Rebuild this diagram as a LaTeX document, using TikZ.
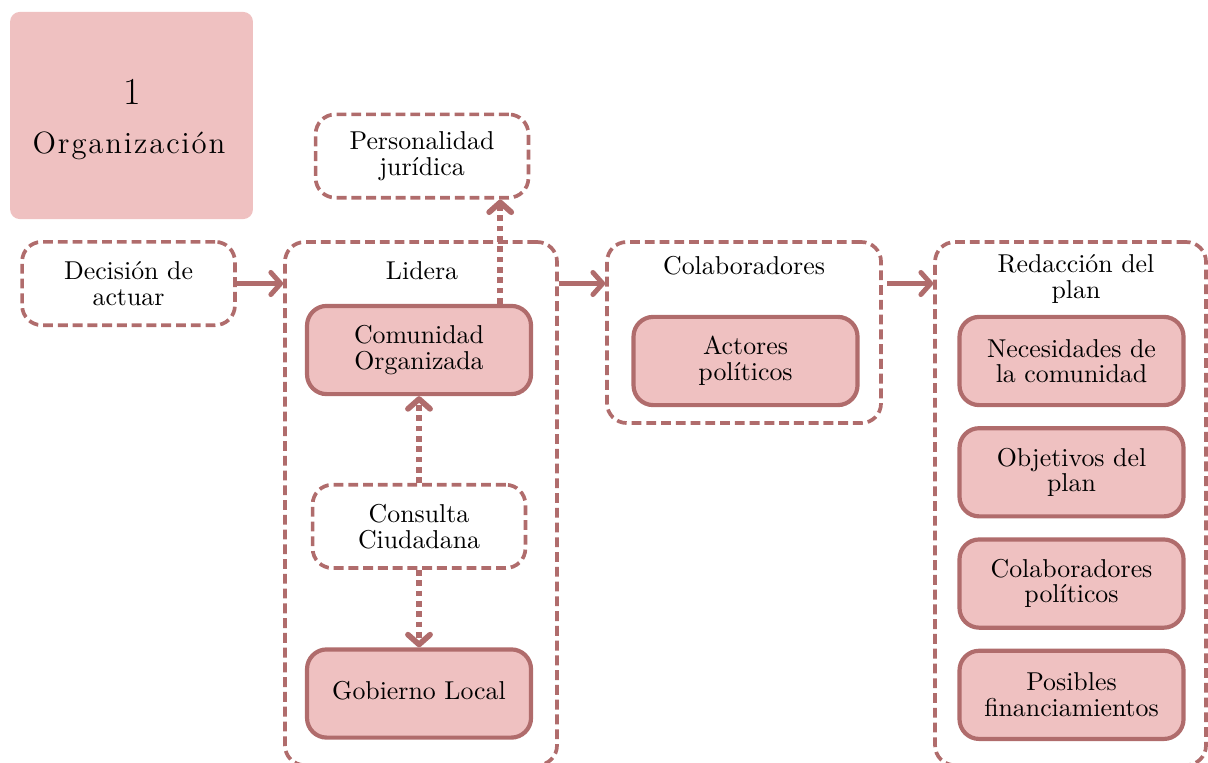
\documentclass[tikz,border=0pt]{standalone}
\usepackage{fontspec}
\usepackage{xcolor}
\usepackage{tikz}
\usetikzlibrary{
  arrows.meta,
  positioning,
  calc
}
\setmainfont{Latin Modern Roman}
\newfontfamily\spacedfont{Latin Modern Roman}[LetterSpace=6]
\definecolor{PlanLine}{HTML}{B06C6C}
\definecolor{PlanFill}{HTML}{EFC1C1}
\newcommand{\boxfont}{\fontsize{10.5}{10.4}\selectfont}
\tikzset{
  stage/.style={draw=PlanLine,line width=1.5pt,dash pattern=on 4pt off 2pt,rounded corners=8pt},
  optbox/.style={stage,minimum width=3.04cm,minimum height=1.19cm,align=center,font=\boxfont},
  itembox/.style={draw=PlanLine,fill=PlanFill,line width=1.7pt,rounded corners=8pt,
    minimum width=3.2cm,minimum height=1.26cm,align=center,font=\boxfont},
  flow/.style={draw=PlanLine,line width=2pt,
    -{Straight Barb[length=4pt,width=9pt,line cap=round,line join=round]}},
  hint/.style={flow,line width=2.3pt,dash pattern=on 2.3pt off 1.9pt}
}

\begin{document}
\begin{tikzpicture}
    \useasboundingbox (0,0) rectangle (17.257,-10.886);

    % title block
    \node[fill=PlanFill,rounded corners=4pt,minimum width=3.47cm,minimum height=2.96cm] (org) at (1.879,-1.65) {};
    \node[font=\fontsize{15.5}{18}\selectfont] (orgnum) at (1.886,-1.314) {1};
    \node[font=\spacedfont\fontsize{12.5}{14}\selectfont] (orgname) at (1.843,-2.086) {Organización};

    % stage containers
    \node[stage,minimum width=3.886cm,minimum height=7.473cm] (lid) at (6.014,-7.194) {};
    \node[stage,minimum width=3.914cm,minimum height=2.586cm] (colab) at (10.629,-4.75) {};
    \node[stage,minimum width=3.871cm,minimum height=7.473cm] (red) at (15.293,-7.194) {};
    \node[font=\boxfont] (lidlabel) at (6.029,-3.871) {Lidera};
    \node[font=\boxfont] (colablabel) at (10.629,-3.8) {Colaboradores};
    \node[font=\boxfont,align=center] (redlabel) at (15.371,-3.986) {Redacción del\\plan};

    % boxes
    \node[optbox] (dec) at (1.836,-4.05) {Decisión de\\actuar};
    \node[optbox] (pers) at (6.029,-2.229) {Personalidad\\jurídica};
    \node[itembox] (com) at (5.986,-5.0) {Comunidad\\Organizada};
    \node[optbox] (cons) at (5.986,-7.52) {Consulta\\Ciudadana};
    \node[itembox] (gob) at (5.986,-9.907) {\raisebox{0.08cm}{Gobierno Local}};
    \node[itembox] (act) at (10.65,-5.157) {Actores\\políticos};
    \node[itembox] (nec) at (15.307,-5.157) {Necesidades de\\la comunidad};
    \node[itembox,below=0.27cm of nec] (obj) {Objetivos del\\plan};
    \node[itembox,below=0.27cm of obj] (colpol) {Colaboradores\\políticos};
    \node[itembox,below=0.27cm of colpol] (fin) {Posibles\\financiamientos};

    % connectors
    \draw[flow] (dec.east) -- (dec.east -| lid.west);
    \draw[flow] (lid.east |- dec.east) -- (colab.west |- dec.east);
    \draw[flow] ([shift={(0.06,0.7)}]colab.east) -- ([yshift=0.7cm]colab.east -| red.west);
    \draw[hint] ([xshift=-0.47cm]com.north east) -- ([xshift=-0.47cm]com.north east |- pers.south);
    \draw[hint] (cons.north) -- (com.south);
    \draw[hint] (cons.south) -- (gob.north);
  \end{tikzpicture}
\end{document}
